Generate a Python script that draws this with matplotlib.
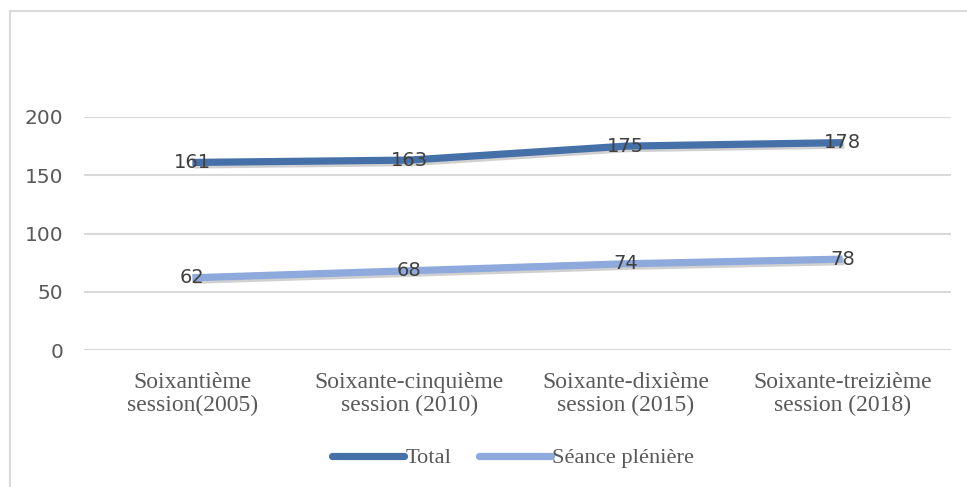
import matplotlib
matplotlib.use("Agg")
import matplotlib.pyplot as plt
import matplotlib.patheffects as pe
from matplotlib.lines import Line2D

# ---- data ---------------------------------------------------------------
categories = ["Soixantième\nsession(2005)", "Soixante-cinquième\nsession (2010)",
              "Soixante-dixième\nsession (2015)", "Soixante-treizième\nsession (2018)"]
total = [161, 163, 175, 178]
pleniere = [62, 68, 74, 78]
series_names = ["Total", "Séance plénière"]
yticks = [0, 50, 100, 150, 200]

C_TOTAL = "#4671A8"
C_PLEN = "#8EA9DB"
GRID = "#D9D9D9"
TXT = "#595959"

fig = plt.figure(figsize=(9.67, 4.87), dpi=100)
W, H = 967, 487
ax = fig.add_axes([84 / W, 1 - 350 / H, (951 - 84) / W, (350 - 117) / H])

x = list(range(len(categories)))
shadow = [pe.SimpleLineShadow(offset=(1.2, -1.8), shadow_color="#444444", alpha=0.25), pe.Normal()]
for vals, col in [(total, C_TOTAL), (pleniere, C_PLEN)]:
    ax.plot(x, vals, color=col, lw=5.2, solid_capstyle="butt", path_effects=shadow, zorder=3)
    for xi, v in zip(x, vals):
        ax.text(xi, v, str(v), ha="center", va="center", fontsize=14, color="#404040",
                family="DejaVu Sans", zorder=4)

ax.set_xlim(-0.5, len(categories) - 0.5)
ax.set_ylim(0, 200)
ax.set_yticks(yticks)
ax.set_xticks(x)
ax.set_xticklabels(categories, family="Liberation Serif", fontsize=17, color=TXT, linespacing=1.12)
ax.tick_params(axis="y", labelsize=14.5, labelcolor=TXT, length=0, pad=15)
ax.tick_params(axis="x", length=0, pad=16)
for lab in ax.get_yticklabels():
    lab.set_family("DejaVu Sans")
ax.yaxis.grid(True, color=GRID, lw=1.5)
ax.set_axisbelow(True)
for s in ax.spines.values():
    s.set_visible(False)
for ln in ax.lines:
    ln.set_clip_on(False)

handles = [Line2D([], [], color=C_TOTAL, lw=5.2, solid_capstyle="round"),
           Line2D([], [], color=C_PLEN, lw=5.2, solid_capstyle="round")]
fig.legend(handles, series_names, loc="center", bbox_to_anchor=(513 / W, 1 - 458 / H), ncol=2,
           frameon=False, prop={"family": "Liberation Serif", "size": 16.2}, labelcolor=TXT,
           handlelength=3.2, handletextpad=0.05, columnspacing=1.2)

# chart border (left and top edges visible in the crop)
fig.add_artist(Line2D([10 / W, 10 / W], [0, 1 - 11 / H], color=GRID, lw=1.5))
fig.add_artist(Line2D([10 / W, 1], [1 - 11 / H, 1 - 11 / H], color=GRID, lw=1.5))

fig.savefig("out.png", dpi=100)
